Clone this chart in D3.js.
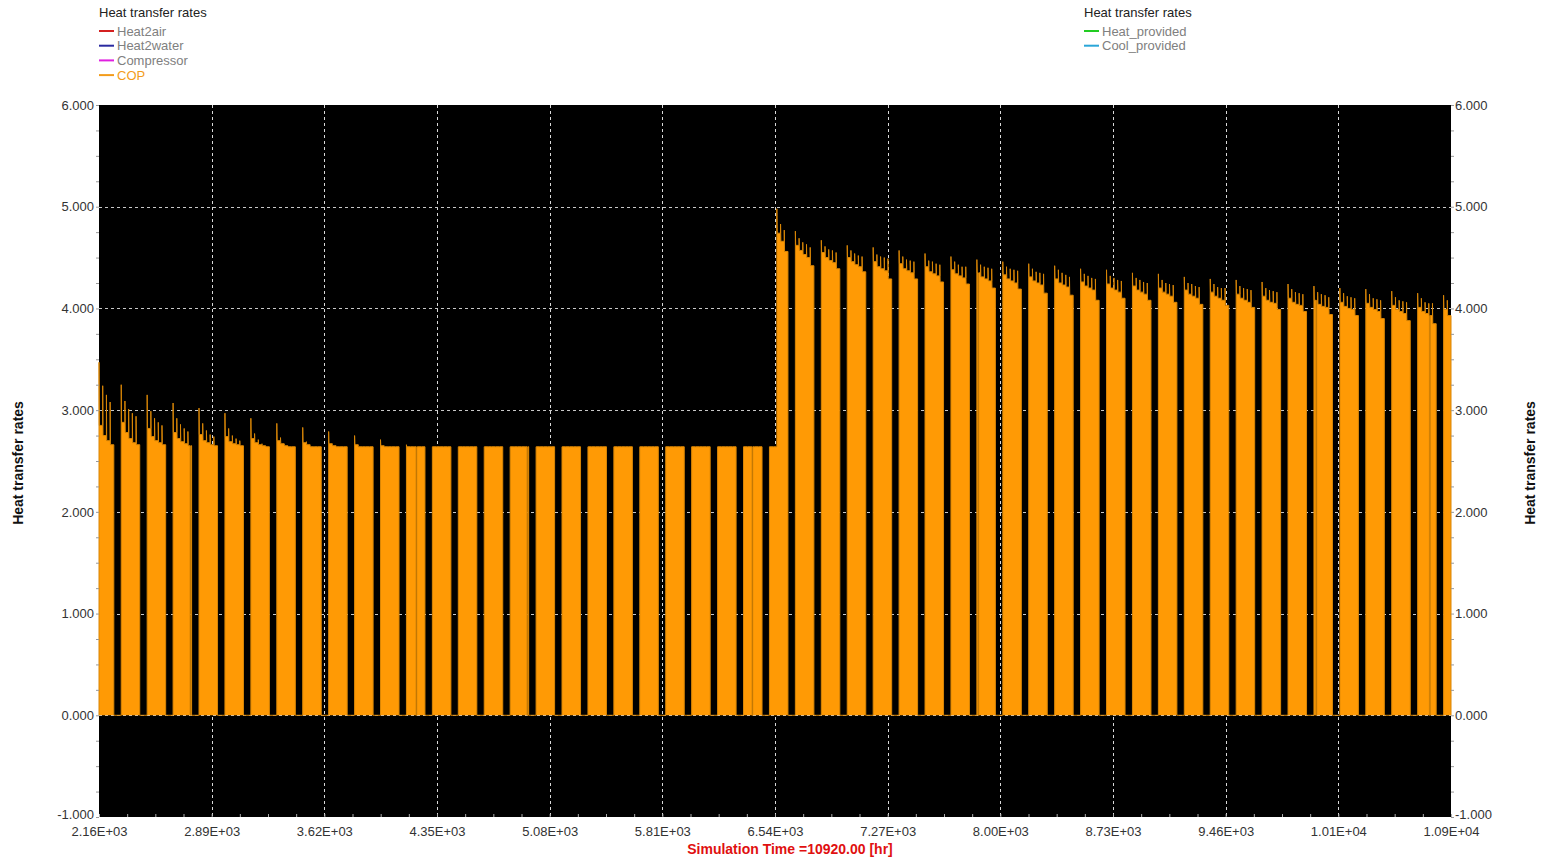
<!DOCTYPE html>
<html>
<head>
<meta charset="utf-8">
<script src="https://cdn.jsdelivr.net/npm/d3@7"></script>
<style>
  body { margin: 0; background: #fff; }
  text { font-family: Arial, "Liberation Sans", sans-serif; }
</style>
</head>
<body>
<svg id="chart" width="1542" height="859"></svg>
<script>
// simulation hours, run starts on a tuesday
var simStart = 2160, simEnd = 10920;
var firstMonday = 2136;

var xTicks = [2160, 2890, 3620, 4350, 5080, 5810, 6540, 7270, 8000, 8730, 9460, 10190, 10920];
var yTicks = [-1, 0, 1, 2, 3, 4, 5, 6];

var leftLegend = ["Heat2air", "Heat2water", "Compressor", "COP"];
var leftColors = ["#d42020", "#2a2aa0", "#e020e0", "#f39c1a"];
var rightLegend = ["Heat_provided", "Cool_provided"];
var rightColors = ["#22cc22", "#2aa6d8"];

// COP spike at the start of each working day (Mon..Fri), one row per week
var copPeaks = [
  [null, 3.47, 3.24, 3.15, 3.08],
  [3.25, 3.09, 3.01, 2.97, 2.94],
  [3.15, 2.99, 2.92, 2.88, 2.85],
  [3.07, 2.92, 2.86, 2.82, 2.79],
  [3.02, 2.87, 2.80, 2.76, 2.74],
  [2.97, 2.82, 2.75, 2.72, 2.70],
  [2.92, 2.77, 2.71, 2.67, 2.65],
  [2.87, 2.73, 2.67, 2.65, 2.64],
  [2.83, 2.69, 2.65, 2.64, 2.64],
  [2.79, 2.66, 2.64, 2.64, 2.64],
  [2.75, 2.64, 2.64, 2.64, 2.64],
  [2.71, 2.64, 2.64, 2.64, 2.64],
  [2.66, 2.64, 2.64, 2.64, 2.64],
  [2.64, 2.64, 2.64, 2.64, 2.64],
  [2.64, 2.64, 2.64, 2.64, 2.64],
  [2.64, 2.64, 2.64, 2.64, 2.64],
  [2.64, 2.64, 2.64, 2.64, 2.64],
  [2.64, 2.64, 2.64, 2.64, 2.64],
  [2.64, 2.64, 2.64, 2.64, 2.64],
  [2.64, 2.64, 2.64, 2.64, 2.64],
  [2.64, 2.64, 2.64, 2.64, 2.64],
  [2.64, 2.64, 2.64, 2.64, 2.64],
  [2.64, 2.64, 2.64, 2.64, 2.64],
  [2.64, 2.64, 2.64, 2.64, 2.64],
  [2.64, 2.64, 2.64, 2.64, 2.64],
  [2.64, 2.64, 2.64, 2.64, 2.64],
  [2.64, 2.64, 4.98, 4.83, 4.77],
  [4.76, 4.69, 4.65, 4.63, 4.60],
  [4.67, 4.61, 4.58, 4.57, 4.55],
  [4.62, 4.57, 4.54, 4.52, 4.51],
  [4.60, 4.53, 4.51, 4.50, 4.49],
  [4.57, 4.51, 4.48, 4.47, 4.46],
  [4.54, 4.47, 4.46, 4.44, 4.43],
  [4.51, 4.46, 4.43, 4.41, 4.41],
  [4.48, 4.43, 4.41, 4.40, 4.39],
  [4.46, 4.41, 4.39, 4.38, 4.37],
  [4.44, 4.39, 4.36, 4.35, 4.34],
  [4.42, 4.38, 4.35, 4.33, 4.31],
  [4.39, 4.34, 4.32, 4.30, 4.29],
  [4.38, 4.32, 4.30, 4.28, 4.27],
  [4.35, 4.30, 4.28, 4.26, 4.25],
  [4.34, 4.28, 4.25, 4.24, 4.23],
  [4.31, 4.25, 4.24, 4.22, 4.21],
  [4.29, 4.24, 4.21, 4.20, 4.20],
  [4.28, 4.22, 4.20, 4.19, 4.18],
  [4.26, 4.20, 4.18, 4.17, 4.16],
  [4.24, 4.19, 4.16, 4.15, 4.14],
  [4.22, 4.16, 4.14, 4.13, 4.11],
  [4.20, 4.15, 4.12, 4.11, 4.10],
  [4.19, 4.14, 4.10, 4.09, 4.08],
  [4.17, 4.11, 4.08, 4.07, 4.06],
  [4.15, 4.10, 4.06, 4.05, 4.05],
  [4.13, 4.08, null, null, null]
];

// level COP settles to after the daily spike
var copLevels = [
  [null, 2.85, 2.75, 2.70, 2.66],
  [2.88, 2.78, 2.72, 2.68, 2.66],
  [2.82, 2.74, 2.70, 2.68, 2.66],
  [2.78, 2.72, 2.69, 2.67, 2.65],
  [2.76, 2.70, 2.68, 2.66, 2.65],
  [2.74, 2.69, 2.67, 2.66, 2.65],
  [2.72, 2.68, 2.66, 2.65, 2.64],
  [2.70, 2.67, 2.65, 2.64, 2.64],
  [2.68, 2.66, 2.64, 2.64, 2.64],
  [2.67, 2.65, 2.64, 2.64, 2.64],
  [2.66, 2.64, 2.64, 2.64, 2.64],
  [2.65, 2.64, 2.64, 2.64, 2.64],
  [2.64, 2.64, 2.64, 2.64, 2.64],
  [2.64, 2.64, 2.64, 2.64, 2.64],
  [2.64, 2.64, 2.64, 2.64, 2.64],
  [2.64, 2.64, 2.64, 2.64, 2.64],
  [2.64, 2.64, 2.64, 2.64, 2.64],
  [2.64, 2.64, 2.64, 2.64, 2.64],
  [2.64, 2.64, 2.64, 2.64, 2.64],
  [2.64, 2.64, 2.64, 2.64, 2.64],
  [2.64, 2.64, 2.64, 2.64, 2.64],
  [2.64, 2.64, 2.64, 2.64, 2.64],
  [2.64, 2.64, 2.64, 2.64, 2.64],
  [2.64, 2.64, 2.64, 2.64, 2.64],
  [2.64, 2.64, 2.64, 2.64, 2.64],
  [2.64, 2.64, 2.64, 2.64, 2.64],
  [2.64, 2.64, 4.74, 4.66, 4.56],
  [4.62, 4.57, 4.53, 4.50, 4.42],
  [4.55, 4.50, 4.47, 4.45, 4.39],
  [4.50, 4.46, 4.43, 4.41, 4.36],
  [4.46, 4.41, 4.39, 4.37, 4.29],
  [4.44, 4.39, 4.37, 4.35, 4.29],
  [4.41, 4.36, 4.34, 4.32, 4.26],
  [4.38, 4.34, 4.32, 4.30, 4.24],
  [4.35, 4.31, 4.29, 4.27, 4.20],
  [4.33, 4.29, 4.27, 4.25, 4.19],
  [4.31, 4.27, 4.25, 4.23, 4.15],
  [4.29, 4.25, 4.23, 4.21, 4.13],
  [4.26, 4.22, 4.20, 4.18, 4.08],
  [4.24, 4.20, 4.18, 4.16, 4.10],
  [4.22, 4.18, 4.16, 4.14, 4.08],
  [4.20, 4.16, 4.14, 4.12, 4.06],
  [4.18, 4.14, 4.12, 4.10, 4.04],
  [4.16, 4.12, 4.10, 4.08, 4.03],
  [4.14, 4.10, 4.08, 4.06, 4.01],
  [4.12, 4.08, 4.06, 4.05, 3.99],
  [4.10, 4.06, 4.04, 4.03, 3.97],
  [4.08, 4.04, 4.02, 4.01, 3.94],
  [4.06, 4.02, 4.00, 3.99, 3.93],
  [4.05, 4.01, 3.99, 3.97, 3.90],
  [4.03, 3.99, 3.97, 3.95, 3.88],
  [4.01, 3.97, 3.95, 3.93, 3.85],
  [3.99, 3.93, null, null, null]
];

// short drops to zero inside working days
var dipHours = [2750, 4214, 4933, 6391, 7855, 10045, 10780];
var dipLength = 5;

// build the hourly COP trace from the daily values
var cop = [];
copPeaks.forEach(function(week, w) {
  var monday = firstMonday + 168 * w;
  week.forEach(function(peak, d) {
    if (peak == null) return;
    var t0 = monday + 24 * d;
    var t1 = Math.min(t0 + 24, simEnd);
    var lv = copLevels[w][d];
    if (d == 0 || week[d - 1] == null) cop.push([t0, 0]);
    cop.push([t0, peak]);
    cop.push([t0 + 2, lv]);
    dipHours.forEach(function(h) {
      if (h > t0 + 2 && h < t1) {
        cop.push([h, lv], [h, 0], [h + dipLength, 0], [h + dipLength, lv]);
      }
    });
    cop.push([t1, lv]);
    if (d == 4 || week[d + 1] == null) cop.push([t1, 0]);
  });
});

var svg = d3.select("#chart");
var plot = { left: 99, right: 1451, top: 105, bottom: 817 };

var x = d3.scaleLinear().domain([simStart, simEnd]).range([plot.left, plot.right]);
var y = d3.scaleLinear().domain([-1, 6]).range([plot.bottom, plot.top]);

// 2.16E+03 style, digits cut not rounded
function sciFormat(v) {
  var e = Math.floor(Math.log10(v));
  var m = Math.floor(v / Math.pow(10, e) * 100 + 1e-6) / 100;
  return m.toFixed(2) + "E+" + (e < 10 ? "0" + e : e);
}

// plain hyphen minus like the original
function valFormat(v) { return v.toFixed(3); }

svg.append("rect")
  .attr("x", plot.left).attr("y", plot.top)
  .attr("width", plot.right - plot.left)
  .attr("height", plot.bottom - plot.top)
  .attr("fill", "#000");

// grid
svg.append("g").selectAll("line")
  .data(xTicks.slice(1, -1))
  .enter().append("line")
  .attr("x1", function(d) { return Math.round(x(d)) + 0.5; })
  .attr("x2", function(d) { return Math.round(x(d)) + 0.5; })
  .attr("y1", plot.top).attr("y2", plot.bottom)
  .attr("stroke", "#d8d8d8")
  .attr("stroke-dasharray", "3,3");

svg.append("g").selectAll("line")
  .data(yTicks.slice(1, -1))
  .enter().append("line")
  .attr("x1", plot.left).attr("x2", plot.right)
  .attr("y1", function(d) { return Math.round(y(d)) + 0.5; })
  .attr("y2", function(d) { return Math.round(y(d)) + 0.5; })
  .attr("stroke", "#c8c8c8")
  .attr("stroke-dasharray", "3,3");

// COP trace
var area = d3.area()
  .x(function(d) { return x(d[0]); })
  .y0(y(0))
  .y1(function(d) { return y(d[1]); });

var line = d3.line()
  .x(function(d) { return x(d[0]); })
  .y(function(d) { return y(d[1]); });

svg.append("path")
  .datum(cop)
  .attr("d", area)
  .attr("fill", "#ff9a05");

svg.append("path")
  .datum(cop)
  .attr("d", line)
  .attr("fill", "none")
  .attr("stroke", "#d98606")
  .attr("stroke-width", 1);

// axes
var xMinor = d3.range(simStart, simEnd + 1, 182.5);
var yMinor = d3.range(-1, 6.01, 0.25);

svg.append("g")
  .attr("transform", "translate(0," + plot.bottom + ")")
  .call(d3.axisBottom(x).tickValues(xMinor).tickSize(-3).tickFormat(""))
  .call(function(g) { g.select(".domain").remove(); })
  .selectAll("line").attr("stroke", "#aaa");

svg.append("g")
  .attr("transform", "translate(" + plot.left + ",0)")
  .call(d3.axisLeft(y).tickValues(yMinor).tickSize(3).tickFormat(""))
  .call(function(g) { g.select(".domain").remove(); })
  .selectAll("line").attr("stroke", "#999");

svg.append("g")
  .attr("transform", "translate(" + plot.right + ",0)")
  .call(d3.axisRight(y).tickValues(yMinor).tickSize(3).tickFormat(""))
  .call(function(g) { g.select(".domain").remove(); })
  .selectAll("line").attr("stroke", "#999");

var xAxis = svg.append("g")
  .attr("transform", "translate(0," + plot.bottom + ")")
  .call(d3.axisBottom(x).tickValues(xTicks).tickSize(0).tickPadding(10).tickFormat(sciFormat));

var yLeft = svg.append("g")
  .attr("transform", "translate(" + (plot.left - 1) + ",0)")
  .call(d3.axisLeft(y).tickValues(yTicks).tickSize(0).tickPadding(4).tickFormat(valFormat));

var yRight = svg.append("g")
  .attr("transform", "translate(" + (plot.right + 1) + ",0)")
  .call(d3.axisRight(y).tickValues(yTicks).tickSize(0).tickPadding(3).tickFormat(valFormat));

[xAxis, yLeft, yRight].forEach(function(g) {
  g.select(".domain").remove();
  g.selectAll("text")
    .attr("fill", "#333")
    .style("font-size", "13px")
    .style("font-family", "Arial, 'Liberation Sans', sans-serif");
});

// lowest value labels sit a bit higher so they clear the time labels
yLeft.selectAll(".tick text").filter(function(d) { return d == -1; }).attr("dy", "0.1em");
yRight.selectAll(".tick text").filter(function(d) { return d == -1; }).attr("dy", "0.1em");

// axis titles
svg.append("text")
  .attr("x", 790)
  .attr("y", 854)
  .attr("text-anchor", "middle")
  .attr("fill", "#e01010")
  .style("font-size", "14px")
  .style("font-weight", "bold")
  .text("Simulation Time =" + simEnd.toFixed(2) + " [hr]");

svg.append("text")
  .attr("transform", "translate(23,463) rotate(-90)")
  .attr("text-anchor", "middle")
  .attr("fill", "#111")
  .style("font-size", "14px")
  .style("font-weight", "bold")
  .text("Heat transfer rates");

svg.append("text")
  .attr("transform", "translate(1535,463) rotate(-90)")
  .attr("text-anchor", "middle")
  .attr("fill", "#111")
  .style("font-size", "14px")
  .style("font-weight", "bold")
  .text("Heat transfer rates");

// legends
function legend(x0, names, colors) {
  var g = svg.append("g").attr("transform", "translate(" + x0 + ",0)");
  g.append("text")
    .attr("x", 0).attr("y", 17)
    .attr("fill", "#222")
    .style("font-size", "13px")
    .text("Heat transfer rates");
  var item = g.selectAll(".item")
    .data(names)
    .enter().append("g")
    .attr("class", "item")
    .attr("transform", function(d, i) { return "translate(0," + (31 + i * 14.7) + ")"; });
  item.append("line")
    .attr("x1", 0).attr("x2", 15)
    .attr("stroke", function(d, i) { return colors[i]; })
    .attr("stroke-width", 2);
  item.append("text")
    .attr("x", 18).attr("y", 4.5)
    .attr("fill", function(d) { return d == "COP" ? "#f39c1a" : "#808080"; })
    .style("font-size", "13px")
    .text(function(d) { return d; });
}

legend(99, leftLegend, leftColors);
legend(1084, rightLegend, rightColors);
</script>
</body>
</html>
